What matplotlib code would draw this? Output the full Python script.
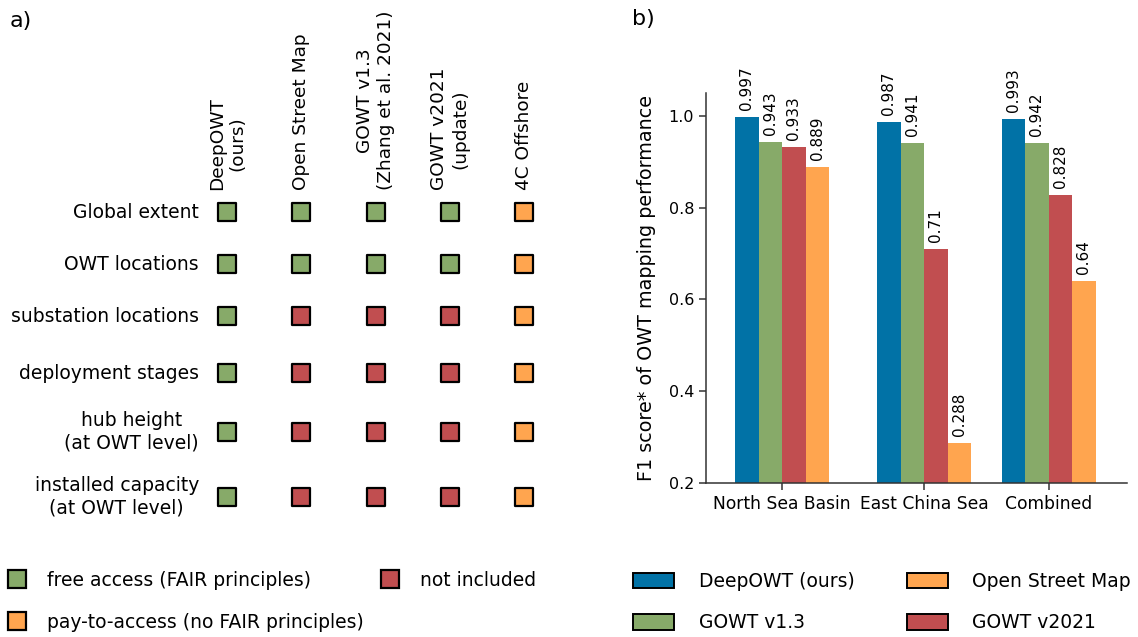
import matplotlib
matplotlib.use("Agg")
import matplotlib.pyplot as plt
from matplotlib.lines import Line2D
from matplotlib.patches import Patch

# ---------------- data ----------------
# panel a) feature matrix
row_labels = ["Global extent", "OWT locations", "substation locations",
              "deployment stages", "hub height\n(at OWT level)",
              "installed capacity\n(at OWT level)"]
col_labels = ["DeepOWT\n(ours)", "Open Street Map", "GOWT v1.3\n(Zhang et al. 2021)",
              "GOWT v2021\n(update)", "4C Offshore"]
# status codes: F = free access, N = not included, P = pay-to-access
status = [
    ["F", "F", "F", "F", "P"],
    ["F", "F", "F", "F", "P"],
    ["F", "N", "N", "N", "P"],
    ["F", "N", "N", "N", "P"],
    ["F", "N", "N", "N", "P"],
    ["F", "N", "N", "N", "P"],
]
status_names = {"F": "free access (FAIR principles)",
                "P": "pay-to-access (no FAIR principles)",
                "N": "not included"}

# panel b) F1 scores
regions = ["North Sea Basin", "East China Sea", "Combined"]
series = ["DeepOWT (ours)", "GOWT v1.3", "GOWT v2021", "Open Street Map"]
deepowt = [0.997, 0.987, 0.993]
gowt_v13 = [0.943, 0.941, 0.942]
gowt_v2021 = [0.933, 0.71, 0.828]
osm = [0.889, 0.288, 0.64]
yticks = [0.2, 0.4, 0.6, 0.8, 1.0]

# ---------------- styles / layout ----------------
C_BLUE = "#0172a6"
C_GREEN = "#87aa69"
C_RED = "#c14e50"
C_ORANGE = "#ffa54f"
status_colors = {"F": C_GREEN, "N": C_RED, "P": C_ORANGE}
series_colors = [C_BLUE, C_GREEN, C_RED, C_ORANGE]

row_pos = [0, 1, 2, 3.1, 4.23, 5.48]
group_pos = [0, 1.21, 2.27]
bar_w = 0.2

W, H = 1138, 637
fig = plt.figure(figsize=(W / 100, H / 100), dpi=100)
plt.rcParams["font.family"] = ["DejaVu Sans"]

def fx(px):
    return px / W

def fy(py):
    return 1 - py / H

# ---------------- panel a ----------------
ax_a = fig.add_axes([fx(190), fy(523), fx(561) - fx(190), fy(186) - fy(523)])
ax_a.set_xlim(-0.5, 4.5)
ax_a.set_ylim(5.98, -0.5)
ax_a.axis("off")
for i, row in enumerate(status):
    for j, s in enumerate(row):
        ax_a.scatter(j, row_pos[i], marker="s", s=180, c=status_colors[s],
                     edgecolors="black", linewidths=1.6, zorder=3, clip_on=False)
for i, lab in enumerate(row_labels):
    ax_a.text(-0.38, row_pos[i], lab, ha="right", va="center",
              fontsize=13.5, multialignment="center")
for j, lab in enumerate(col_labels):
    ax_a.text(j, -0.42, lab, rotation=90, ha="center", va="bottom",
              fontsize=13.3, multialignment="center", clip_on=False)

fig.text(fx(10), fy(21), "a)", fontsize=16, ha="left", va="center")
fig.text(fx(632), fy(19), "b)", fontsize=16, ha="left", va="center")

# legend a
leg_a_handles = [Line2D([], [], marker="s", linestyle="none", markersize=13.5,
                        markerfacecolor=status_colors[k], markeredgecolor="black",
                        markeredgewidth=1.6) for k in ["F", "P", "N"]]
leg_a_labels = [status_names[k] for k in ["F", "P", "N"]]
fig.legend(leg_a_handles, leg_a_labels, loc="upper left",
           bbox_to_anchor=(fx(6), fy(571)), ncol=2, frameon=False,
           fontsize=13.5, borderpad=0, borderaxespad=0, handlelength=1.2,
           handletextpad=1.0, columnspacing=0.78, labelspacing=1.22)

# ---------------- panel b ----------------
ax_b = fig.add_axes([fx(706), fy(483), fx(1127) - fx(706), fy(93) - fy(483)])
values = [deepowt, gowt_v13, gowt_v2021, osm]
offsets = [-1.5, -0.5, 0.5, 1.5]
for k, vals in enumerate(values):
    xs = [g + offsets[k] * bar_w for g in group_pos]
    ax_b.bar(xs, vals, width=bar_w, color=series_colors[k], label=series[k])
    for x, v in zip(xs, vals):
        ax_b.annotate(str(v), (x, v), xytext=(0, 5), textcoords="offset points",
                      rotation=90, ha="center", va="bottom", fontsize=11)
ax_b.set_ylim(0.2, 1.05)
ax_b.set_xlim(-0.647, 2.936)
ax_b.set_yticks(yticks)
ax_b.set_yticklabels([f"{t:.1f}" for t in yticks], fontsize=11.5)
ax_b.set_xticks(group_pos)
ax_b.set_xticklabels(regions, fontsize=12.3)
ax_b.set_ylabel("F1 score* of OWT mapping performance", fontsize=13.8, labelpad=9)
for s in ["top", "right"]:
    ax_b.spines[s].set_visible(False)
for s in ["left", "bottom"]:
    ax_b.spines[s].set_color("#333333")
    ax_b.spines[s].set_linewidth(1.1)
ax_b.tick_params(axis="both", length=5, width=1.1, color="#333333")

# legend b
order = [0, 1, 3, 2]
leg_b_handles = [Patch(facecolor=series_colors[k], edgecolor="black", linewidth=1.4)
                 for k in order]
leg_b_labels = [series[k] for k in order]
fig.legend(leg_b_handles, leg_b_labels, loc="upper left",
           bbox_to_anchor=(fx(633), fy(572)), ncol=2, frameon=False,
           fontsize=13.5, borderpad=0, borderaxespad=0, handlelength=2.2,
           handleheight=0.9, handletextpad=1.3, columnspacing=2.8, labelspacing=1.2)

fig.savefig("out.png", dpi=100)
